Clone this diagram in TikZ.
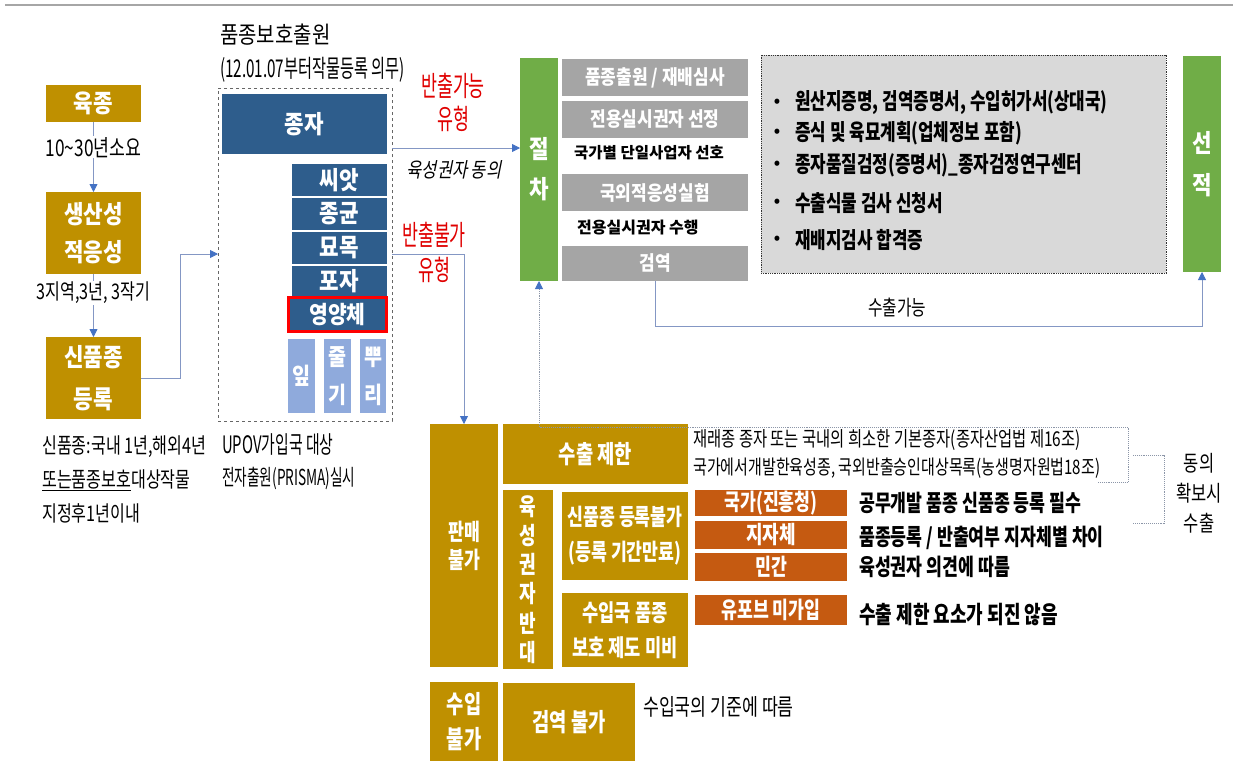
\documentclass[tikz,border=0pt]{standalone}
\usepackage{fontspec}
\setmainfont{Noto Sans CJK KR}
\newfontfamily\kn{Noto Sans CJK KR}
\newfontfamily\kl[FakeStretch=0.85]{Noto Sans CJK KR}
\newfontfamily\kc[FakeStretch=0.75]{Noto Sans CJK KR}
\newfontfamily\kcc[FakeStretch=0.62]{Noto Sans CJK KR}
\newfontfamily\ki[FakeStretch=0.8,FakeSlant=0.2]{Noto Sans CJK KR}
\usetikzlibrary{arrows.meta,calc}
\definecolor{gold}{HTML}{BF9000}
\definecolor{dblue}{HTML}{2E5D8C}
\definecolor{lblue}{HTML}{8FAADC}
\definecolor{mgray}{HTML}{A5A5A5}
\definecolor{lgray}{HTML}{D9D9D9}
\definecolor{ggreen}{HTML}{70AD47}
\definecolor{orng}{HTML}{C55A11}
\definecolor{redtxt}{HTML}{E00000}
\definecolor{lineblue}{HTML}{8497C4}
\definecolor{tipblue}{HTML}{4472C4}
\definecolor{dotgray}{HTML}{8C96A8}
\definecolor{topgray}{HTML}{A6A6A6}
\newcommand\fsz[2]{\fontsize{#1}{#2}\selectfont}
\tikzset{
  bx/.style={inner sep=0pt, outer sep=0pt, anchor=north west, align=center, text=white},
  goldbox/.style={bx, fill=gold},
  bluebox/.style={bx, fill=dblue},
  lbox/.style={bx, fill=lblue},
  graybox/.style={bx, fill=mgray},
  greenbox/.style={bx, fill=ggreen},
  orbox/.style={bx, fill=orng},
  txt/.style={inner sep=1pt, anchor=west, text=black, align=left},
  ctxt/.style={inner sep=1pt, anchor=center, text=black, align=center},
  redlbl/.style={inner sep=0pt, anchor=center, text=redtxt, align=center, font=\kcc\fsz{28}{33}},
  conn/.style={draw=lineblue, line width=0.8pt},
  arr/.style={conn, -{Triangle[length=8pt,width=8pt,color=tipblue,fill=tipblue]}},
  dconn/.style={draw=dotgray, line width=0.9pt, densely dotted},
  darr/.style={dconn, -{Triangle[length=8pt,width=8pt,color=tipblue,fill=tipblue]}},
}
\begin{document}
\begin{tikzpicture}[x=1pt,y=-1pt]
\useasboundingbox (0,0) rectangle (1233,761);
\fill[white] (0,0) rectangle (1233,761);
\draw[topgray, line width=2pt] (5,5) -- (1233,5);

% ---------------- left column ----------------
\node[goldbox, minimum width=95pt, minimum height=37pt, font=\kl\bfseries\fsz{25}{26}] (yukjong) at (46,85) {육종};
\node[goldbox, minimum width=95pt, minimum height=82pt, font=\kl\bfseries\fsz{25}{38}] (saengsan) at (46,192) {생산성\\적응성};
\node[goldbox, minimum width=95pt, minimum height=82pt, font=\kl\bfseries\fsz{25}{42}] (sinpum) at (46,337) {신품종\\등록};

\draw[arr] (yukjong) -- node[pos=0.36, fill=white, inner sep=1pt, text=black, font=\kc\fsz{23}{24}] (t1030) {10\textasciitilde30년소요} (saengsan);
\draw[arr] (saengsan) -- node[pos=0.3, fill=white, inner sep=1pt, text=black, font=\kc\fsz{21.5}{24}] (t333) {3지역,3년, 3작기} (sinpum);

\node[txt, font=\kc\fsz{21.5}{26}] (sp1) at (41,447) {신품종:국내 1년,해외4년};
\node[txt, font=\kc\fsz{21.5}{26}] (sp2) at (41,480) {\underline{또는품종보호}대상작물};
\node[txt, font=\kc\fsz{21.5}{26}] (sp3) at (41,513) {지정후1년이내};

% ---------------- protection application ----------------
\node[txt, font=\kl\fsz{23.5}{26}] (ttl) at (219,35) {품종보호출원};
\node[txt, font=\kcc\fsz{24.5}{26}] (ttl2) at (219,70) {(12.01.07부터작물등록 의무)};

\node[bx, draw=black!60, dashed, line width=0.6pt, minimum width=174pt, minimum height=333pt] (bohobox) at (218,88) {};
\node[bluebox, minimum width=165pt, minimum height=60pt, font=\kl\bfseries\fsz{25}{26}] (jongja) at (222,94) {종자};
\node[bluebox, minimum width=95pt, minimum height=32pt, font=\kl\bfseries\fsz{25}{26}] (ssiat) at (292,164) {씨앗};
\node[bluebox, minimum width=95pt, minimum height=32pt, font=\kl\bfseries\fsz{25}{26}] (jonggyun) at (292,198) {종균};
\node[bluebox, minimum width=95pt, minimum height=32pt, font=\kl\bfseries\fsz{25}{26}] (myomok) at (292,232) {묘목};
\node[bluebox, minimum width=95pt, minimum height=31pt, font=\kl\bfseries\fsz{25}{26}] (poja) at (292,266) {포자};
\node[bluebox, draw=red, line width=3pt, minimum width=98pt, minimum height=34pt, font=\kl\bfseries\fsz{24}{26}] (yeongyang) at (288.5,297.5) {영양체};
\node[lbox, minimum width=27pt, minimum height=74pt, font=\kl\bfseries\fsz{23}{38}] (ip) at (288,339) {잎};
\node[lbox, minimum width=27pt, minimum height=74pt, font=\kl\bfseries\fsz{23}{38}] (julgi) at (324,339) {줄\\기};
\node[lbox, minimum width=26pt, minimum height=74pt, font=\kl\bfseries\fsz{23}{38}] (ppuri) at (360,339) {뿌\\리};

\node[txt, font=\kcc\fsz{24}{26}] (upov1) at (221,445) {UPOV가입국 대상};
\node[txt, font=\kcc\fsz{22}{26}] (upov2) at (221,478) {전자출원(PRISMA)실시};

\coordinate (c1) at (180,254);
\draw[arr] (sinpum.east) -| (c1) -- (c1 -| bohobox.west);

% ---------------- procedure ----------------
\node[greenbox, minimum width=38pt, minimum height=223pt, font=\kl\bfseries\fsz{25}{40}] (jeolcha) at (520,58) {절\\차};
\node[graybox, minimum width=186pt, minimum height=37pt, font=\kl\bfseries\fsz{20}{22}] (g1) at (562,59) {품종출원 / 재배심사};
\node[graybox, minimum width=186pt, minimum height=37pt, font=\kl\bfseries\fsz{20}{22}] (g2) at (562,101) {전용실시권자 선정};
\node[txt, font=\kn\bfseries\fsz{15.5}{20}] (n1) at (573,153) {국가별 단일사업자 선호};
\node[graybox, minimum width=186pt, minimum height=37pt, font=\kl\bfseries\fsz{20}{22}] (g3) at (562,174) {국외적응성실험};
\node[txt, font=\kn\bfseries\fsz{16}{20}] (n2) at (576,228) {전용실시권자 수행};
\node[graybox, minimum width=186pt, minimum height=35pt, font=\kl\bfseries\fsz{20}{22}] (g4) at (562,246) {검역};

\node[bx, fill=lgray, draw=black!80, densely dotted, line width=0.8pt, minimum width=405pt, minimum height=218pt] (docs) at (761,55) {};
\foreach \yy/\tt/\nm in {103/{원산지증명, 검역증명서, 수입허가서(상대국)}/d1, 133/{증식 및 육묘계획(업체정보 포함)}/d2, 165/{종자품질검정(증명서)\_종자검정연구센터}/d3, 203/{수출식물 검사 신청서}/d4, 240/{재배지검사 합격증}/d5}{
  \node[ctxt, font=\kn\bfseries\fsz{16}{20}] (\nm b) at (777,\yy) {•};
  \node[txt, font=\kc\bfseries\fsz{22.5}{26}] (\nm) at (794,\yy) {\tt};
}
\node[greenbox, minimum width=38pt, minimum height=216pt, font=\kl\bfseries\fsz{25}{42}] (seonjeok) at (1183,56) {선\\적};

% connectors of the procedure
\draw[arr] (bohobox.east |- 0,148) -- (jeolcha.west |- 0,148);
\node[redlbl] (ban1) at (453,102) {반출가능\\유형};
\node[ctxt, font=\ki\fsz{20.5}{24}] (agree) at (454,170) {육성권자 동의};

\draw[arr] (g4.south) -- ++(0,45) -| (seonjeok.south);
\node[ctxt, font=\kc\fsz{21}{24}] (exok) at (897,308) {수출가능};

% ---------------- not exportable ----------------
\node[goldbox, minimum width=68pt, minimum height=243pt, font=\kc\bfseries\fsz{23}{28}] (panmae) at (430,424) {판매\\불가};
\draw[arr] (bohobox.east |- 0,254) -| (panmae.north);
\node[redlbl, font=\kcc\fsz{28}{35}] (ban2) at (434,252) {반출불가\\유형};

\node[goldbox, minimum width=185pt, minimum height=60pt, font=\kc\bfseries\fsz{25}{28}] (jehan) at (503,424) {수출 제한};
\node[goldbox, minimum width=50pt, minimum height=179pt, font=\kc\bfseries\fsz{24}{29.2}] (bandae) at (503,490) {육\\성\\권\\자\\반\\대};
\node[goldbox, minimum width=126pt, minimum height=88pt, font=\kc\bfseries\fsz{23}{35}] (sinbul) at (562,492) {신품종 등록불가\\(등록 기간만료)};
\node[goldbox, minimum width=126pt, minimum height=74pt, font=\kc\bfseries\fsz{23.5}{35}] (suipguk) at (562,593) {수입국 품종\\보호 제도 미비};
\node[orbox, minimum width=152pt, minimum height=26pt, font=\kc\bfseries\fsz{23}{26}] (o1) at (695,490) {국가(진흥청)};
\node[orbox, minimum width=152pt, minimum height=28pt, font=\kc\bfseries\fsz{24}{26}] (o2) at (695,521) {지자체};
\node[orbox, minimum width=152pt, minimum height=28pt, font=\kc\bfseries\fsz{23}{26}] (o3) at (695,553) {민간};
\node[orbox, minimum width=152pt, minimum height=30pt, font=\kc\bfseries\fsz{23}{26}] (o4) at (695,595) {유포브 미가입};

\node[txt, font=\kc\fsz{20.5}{26}] (r1) at (692,440) {재래종 종자 또는 국내의 희소한 기본종자(종자산업법 제16조)};
\node[txt, font=\kc\fsz{20}{26}] (r2) at (692,468) {국가에서개발한육성종, 국외반출승인대상목록(농생명자원법18조)};
\node[txt, font=\kc\bfseries\fsz{23}{26}] (r3) at (858,503) {공무개발 품종 신품종 등록 필수};
\node[txt, font=\kc\bfseries\fsz{23}{26}] (r4) at (858,538) {품종등록 / 반출여부 지자체별 차이};
\node[txt, font=\kc\bfseries\fsz{23}{26}] (r5) at (858,567) {육성권자 의견에 따름};
\node[txt, font=\kc\bfseries\fsz{24}{26}] (r6) at (858,615) {수출 제한 요소가 되진 않음};

\node[goldbox, minimum width=68pt, minimum height=79pt, font=\kc\bfseries\fsz{25}{35}] (suipbul) at (430,682) {수입\\불가};
\node[goldbox, minimum width=132pt, minimum height=78pt, font=\kc\bfseries\fsz{25}{28}] (geombul) at (503,683) {검역 불가};
\node[txt, font=\kc\fsz{23}{26}] (r7) at (642,707) {수입국의 기준에 따름};

% consent-return connectors
\coordinate (k1) at (1098,482);
\coordinate (k2) at (1128,427);
\draw[darr] (k1) -| (k2) -| (jeolcha.south);
\coordinate (b1) at (1133,455);
\coordinate (b2) at (1164,523);
\draw[dconn] (b1) -| (b2) -- (b2 -| b1);
\node[ctxt, font=\kc\fsz{22}{30}] (consent) at (1199,493) {동의\\확보시\\수출};
\end{tikzpicture}
\end{document}
